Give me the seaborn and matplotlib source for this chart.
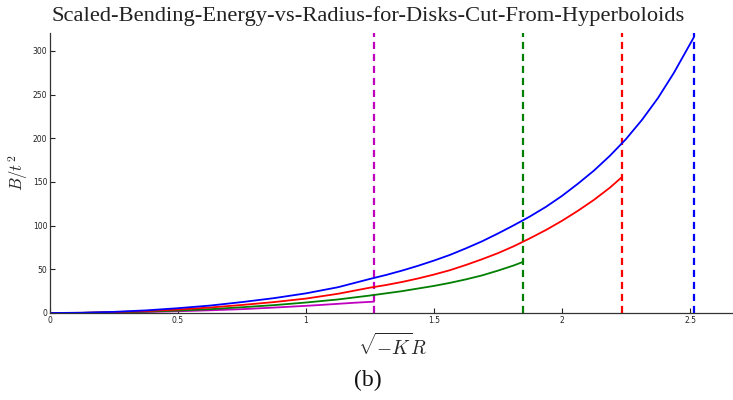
import numpy as np
import pandas as pd
import matplotlib
matplotlib.use("Agg")
import matplotlib.pyplot as plt
import seaborn as sns

# ---- data ----
x_blue = [0, 0.125, 0.25, 0.375, 0.5, 0.625, 0.75, 0.875, 1.0, 1.125, 1.25,
          1.3125, 1.375, 1.4375, 1.5, 1.5625, 1.625, 1.6875, 1.75, 1.8125, 1.875,
          1.9375, 2.0, 2.0625, 2.125, 2.1875, 2.25, 2.3125, 2.375, 2.4375, 2.516]
y_blue = [0, 0.3, 1.3, 3.0, 5.5, 8.5, 12.5, 17, 22.5, 29.5, 39,
          43.5, 48.5, 54, 60, 66.5, 74, 82, 91, 100.5, 110.5,
          121.5, 134, 148, 163, 180, 199, 221, 246, 275, 316]

x_red = [0, 0.125, 0.25, 0.375, 0.5, 0.625, 0.75, 0.875, 1.0, 1.125, 1.25,
         1.3125, 1.375, 1.4375, 1.5, 1.5625, 1.625, 1.6875, 1.75, 1.8125, 1.875,
         1.9375, 2.0, 2.0625, 2.125, 2.1875, 2.234]
y_red = [0, 0.2, 1.0, 2.2, 4.0, 6.3, 9.2, 12.5, 16.5, 22, 29,
         32, 35.5, 39.5, 44, 49, 55, 61.5, 68.5, 76.5, 85.5,
         95, 105.5, 117, 129.5, 143.5, 155.5]

x_green = [0, 0.125, 0.25, 0.375, 0.5, 0.625, 0.75, 0.875, 1.0, 1.125, 1.25,
           1.3125, 1.375, 1.4375, 1.5, 1.5625, 1.625, 1.6875, 1.75, 1.8125, 1.848]
y_green = [0, 0.15, 0.7, 1.6, 2.8, 4.4, 6.6, 9.0, 12, 15.5, 20,
           22.5, 25, 28, 31, 34.5, 38.5, 43, 48.5, 54.5, 58.5]

x_mag = [0, 0.125, 0.25, 0.375, 0.5, 0.625, 0.75, 0.875, 1.0, 1.0625, 1.125,
         1.1875, 1.266]
y_mag = [0, 0.1, 0.5, 1.2, 2.0, 3.1, 4.4, 6.2, 8.2, 9.3, 10.5, 11.7, 13]

cutoffs = [1.266, 1.848, 2.234, 2.516]

xticks = [0, 0.5, 1, 1.5, 2, 2.5]
xticklabels = ["0", "0.5", "1", "1.5", "2", "2.5"]
yticks = [0, 50, 100, 150, 200, 250, 300]

title = "Scaled-Bending-Energy-vs-Radius-for-Disks-Cut-From-Hyperboloids"

# ---- styling ----
sns.set_style("ticks")
plt.rcParams["mathtext.fontset"] = "cm"
plt.rcParams["font.family"] = ["DejaVu Sans"]

C_BLUE = "#0000ff"
C_RED = "#ff0000"
C_GREEN = "#007f00"
C_MAG = "#bf00bf"

fig = plt.figure(figsize=(7.33, 4.0), dpi=100)
W, H = 733, 400
ax = fig.add_axes([50 / W, (H - 313) / H, 686 / W, 280 / H])

series = [
    (x_mag, y_mag, C_MAG),
    (x_green, y_green, C_GREEN),
    (x_red, y_red, C_RED),
    (x_blue, y_blue, C_BLUE),
]
for xs, ys, c in series:
    df = pd.DataFrame({"x": xs, "y": ys})
    sns.lineplot(data=df, x="x", y="y", ax=ax, color=c, linewidth=1.3,
                 estimator=None, sort=False)

for xc, c in zip(cutoffs, [C_MAG, C_GREEN, C_RED, C_BLUE]):
    ax.axvline(xc, color=c, linestyle=(0, (3.2, 2.2)), linewidth=1.6, zorder=1)

ax.set_xlim(0, 686 / 256)
ax.set_ylim(0, 280 / 0.874)
ax.set_xticks(xticks)
ax.set_xticklabels(xticklabels)
ax.set_yticks(yticks)
ax.tick_params(direction="in", length=3.5, width=0.8, labelsize=5.5,
               colors="#222222", pad=2)
sns.despine(ax=ax, top=True, right=True)
for s in ["left", "bottom"]:
    ax.spines[s].set_color("#333333")
    ax.spines[s].set_linewidth(0.9)

ax.set_xlabel(r"$\sqrt{-K}R$", fontsize=14, labelpad=6)
ax.set_ylabel(r"$B/t^2$", fontsize=12)
ax.yaxis.set_label_coords(-20 / 686, 0.5)

fig.text(368 / W, 1 - 16 / H, title, ha="center", va="center",
         fontsize=16.2, family=["Liberation Serif"], color="#222222")
fig.text(368 / W, 1 - 380 / H, "(b)", ha="center", va="center",
         fontsize=17, family=["Liberation Serif"], color="#111111")

fig.savefig("out.png", dpi=100)
